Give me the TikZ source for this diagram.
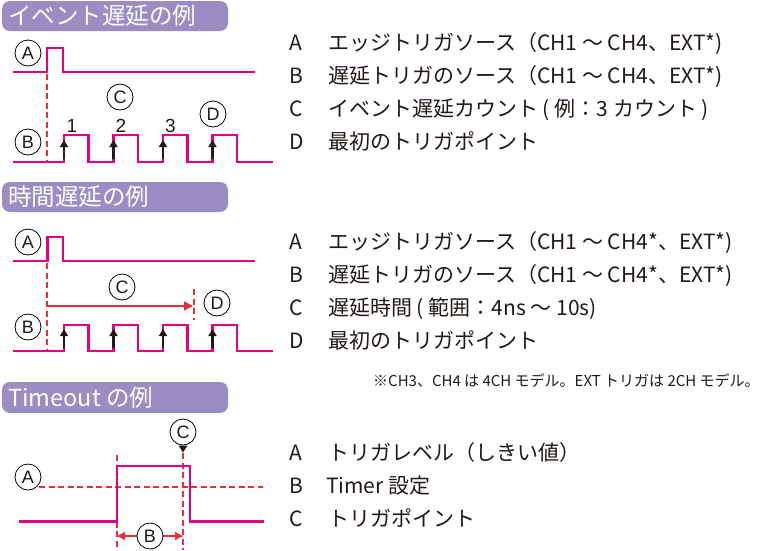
\documentclass[tikz,border=0pt]{standalone}
\usepackage{fontspec}
\setmainfont{Noto Sans CJK JP}
\newfontfamily\arialf{Liberation Sans}
\usetikzlibrary{arrows.meta}
\definecolor{sigpink}{HTML}{E4007F}
\definecolor{dashred}{HTML}{E8303A}
\definecolor{titlepurple}{HTML}{9A8DC3}
\definecolor{txtblk}{HTML}{231815}
\begin{document}
\begin{tikzpicture}[x=1pt,y=-1pt,
  sig/.style={draw=sigpink, line width=2.4pt, line join=miter},
  dashr/.style={draw=dashred, line width=1.3pt, dash pattern=on 6pt off 3.5pt},
  circ/.style={circle, draw=black, line width=0.8pt, minimum size=26pt, inner sep=0pt, fill=white, text=txtblk, font=\arialf\fontsize{18}{18}\selectfont},
  upar/.style={draw=txtblk, line width=2.6pt, -{Triangle[length=7pt,width=8pt]}},
  redar/.style={draw=dashred, line width=1.3pt},
  titlebar/.style={fill=titlepurple, rounded corners=8pt},
  ttext/.style={anchor=west, text=white, inner sep=0pt, font=\fontsize{23.5}{24}\selectfont},
  desc/.style={anchor=base west, inner sep=0pt, text=txtblk, font=\fontsize{21}{24}\selectfont},
  note/.style={anchor=base west, inner sep=0pt, text=txtblk, font=\fontsize{15}{18}\selectfont},
  num/.style={inner sep=0pt, text=txtblk, font=\arialf\fontsize{19}{19}\selectfont}
]
\useasboundingbox (0,0) rectangle (761,550);

% ===== Section 1: event delay =====
\fill[titlebar] (2,1) rectangle (228,31);
\node[ttext] (t1) at (8,16) {イベント遅延の例};

\draw[dashr] (47,74) -- (47,162);
\draw[sig] (13,72) -- (47,72) -- (47,48) -- (63,48) -- (63,72) -- (255,72);
\draw[sig] (13,162) -- (64,162) -- (64,135) -- (88.5,135) -- (88.5,162)
  -- (113.5,162) -- (113.5,135) -- (138,135) -- (138,162)
  -- (163,162) -- (163,135) -- (187.5,135) -- (187.5,162)
  -- (212.5,162) -- (212.5,135) -- (237,135) -- (237,162) -- (273,162);
\foreach \x/\n in {64/1,113.5/2,163/3,212.5/4}{
  \coordinate (e1b\n) at (\x,159);
  \coordinate (e1t\n) at (\x,140);
  \draw[upar] (e1b\n) -- (e1t\n);
}
\node[circ] (c1a) at (28,53) {A};
\node[circ] (c1b) at (28,142) {B};
\node[circ] (c1c) at (120,97) {C};
\node[circ] (c1d) at (213,114) {D};
\node[num] (n1) at (72,126) {1};
\node[num] (n2) at (121,126) {2};
\node[num] (n3) at (170.5,126) {3};

\node[desc] (s1a) at (289,50) {\makebox[39pt][l]{A}エッジトリガソース（CH1 ～ CH4、EXT*)};
\node[desc] (s1b) at (289,83) {\makebox[39pt][l]{B}遅延トリガのソース（CH1 ～ CH4、EXT*)};
\node[desc] (s1c) at (289,116) {\makebox[39pt][l]{C}イベント遅延カウント ( 例：3 カウント )};
\node[desc] (s1d) at (289,149) {\makebox[39pt][l]{D}最初のトリガポイント};

% ===== Section 2: time delay =====
\fill[titlebar] (2,182) rectangle (228,212);
\node[ttext] (t2) at (8,197) {時間遅延の例};

\draw[dashr] (47,263) -- (47,351);
\draw[dashr] (194,289) -- (194,320);
\coordinate (arS) at (47,306);
\coordinate (arE) at (193,306);
\draw[redar, -{Triangle[length=9pt,width=9pt]}] (arS) -- (arE);
\draw[sig] (13,261) -- (47.5,261) -- (47.5,237) -- (63,237) -- (63,261) -- (255,261);
\draw[sig] (13,351) -- (64,351) -- (64,325) -- (88.5,325) -- (88.5,351)
  -- (113.5,351) -- (113.5,325) -- (138,325) -- (138,351)
  -- (163,351) -- (163,325) -- (187.5,325) -- (187.5,351)
  -- (212.5,351) -- (212.5,325) -- (237,325) -- (237,351) -- (273,351);
\foreach \x/\n in {64/1,113.5/2,163/3,212.5/4}{
  \coordinate (e2b\n) at (\x,348);
  \coordinate (e2t\n) at (\x,329);
  \draw[upar] (e2b\n) -- (e2t\n);
}
\node[circ] (c2a) at (28,242) {A};
\node[circ] (c2b) at (28,327) {B};
\node[circ] (c2c) at (122,287) {C};
\node[circ] (c2d) at (217,303) {D};

\node[desc] (s2a) at (289,249) {\makebox[39pt][l]{A}エッジトリガソース（CH1 ～ CH4*、EXT*)};
\node[desc] (s2b) at (289,282) {\makebox[39pt][l]{B}遅延トリガのソース（CH1 ～ CH4*、EXT*)};
\node[desc] (s2c) at (289,315) {\makebox[39pt][l]{C}遅延時間 ( 範囲：4ns ～ 10s)};
\node[desc] (s2d) at (289,348) {\makebox[39pt][l]{D}最初のトリガポイント};
\node[note] (s2n) at (373,386) {※CH3、CH4 は 4CH モデル。EXT トリガは 2CH モデル。};

% ===== Section 3: timeout =====
\fill[titlebar] (2,382) rectangle (228,413);
\node[ttext] (t3) at (8,397.5) {Timeout の例};

\draw[dashr] (20,487) -- (263,487);
\draw[dashr] (117,455) -- (117,550);
\draw[dashr] (183,453) -- (183,550);
\draw[sig] (19,521.5) -- (117,521.5) -- (117,466) -- (190,466) -- (190,521.5) -- (264,521.5);
\coordinate (bS) at (117,536);
\coordinate (bE) at (183,536);
\draw[redar, {Triangle[length=8pt,width=8pt]}-{Triangle[length=8pt,width=8pt]}] (bS) -- (bE);
\node[circ] (c3a) at (28,477) {A};
\node[circ] (c3b) at (150,536) {B};
\node[circ] (c3c) at (183,432) {C};
\fill[txtblk] (178.5,445.5) -- (187.5,445.5) -- (183,452.5) -- cycle;

\node[desc] (s3a) at (289,460) {\makebox[39pt][l]{A}トリガレベル（しきい値）};
\node[desc] (s3b) at (289,493) {\makebox[37pt][l]{B}Timer 設定};
\node[desc] (s3c) at (289,526) {\makebox[39pt][l]{C}トリガポイント};
\end{tikzpicture}
\end{document}
